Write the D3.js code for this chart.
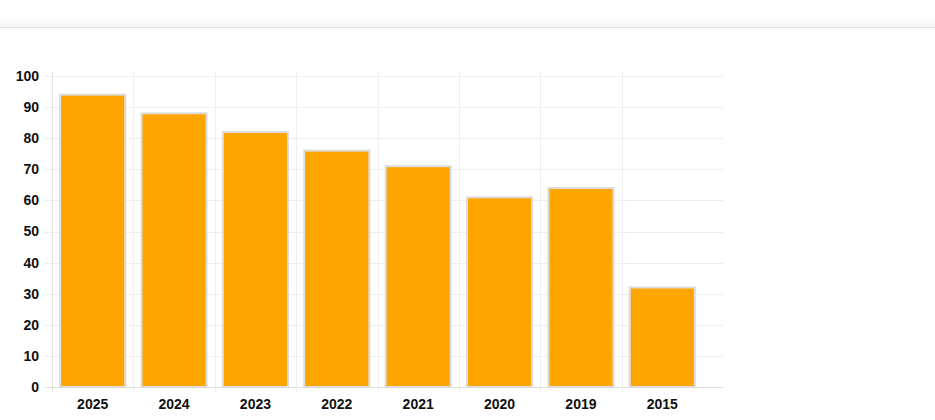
<!DOCTYPE html>
<html>
<head>
<meta charset="utf-8">
<script src="https://cdn.jsdelivr.net/npm/d3@7"></script>
<style>
  body { margin: 0; background: #fff; }
  svg { display: block; font-family: "Liberation Sans", Arial, sans-serif; }
</style>
</head>
<body>
<svg id="chart"></svg>
<script>
const years = ["2025", "2024", "2023", "2022", "2021", "2020", "2019", "2015"];
const scores = [94, 88, 82, 76, 71, 61, 64, 32];
const yTicks = [0, 10, 20, 30, 40, 50, 60, 70, 80, 90, 100];

const width = 935, height = 420;
const plot = { left: 52, right: 723, top: 76, bottom: 387, bandsEnd: 703 };

const svg = d3.select("#chart")
    .attr("width", width)
    .attr("height", height);

// faint header strip across the top of the page
const defs = svg.append("defs");
const grad = defs.append("linearGradient")
    .attr("id", "headerShade")
    .attr("x1", 0).attr("y1", 0).attr("x2", 0).attr("y2", 1);
grad.append("stop").attr("offset", "0%").attr("stop-color", "#fff");
grad.append("stop").attr("offset", "100%").attr("stop-color", "#f6f6f6");

svg.append("rect")
    .attr("x", 0).attr("y", 16)
    .attr("width", width).attr("height", 11)
    .attr("fill", "url(#headerShade)");
svg.append("line")
    .attr("x1", 0).attr("x2", width)
    .attr("y1", 27.5).attr("y2", 27.5)
    .attr("stroke", "#e2e2e2");

const x = d3.scaleBand()
    .domain(years)
    .range([plot.left, plot.bandsEnd])
    .paddingInner(0.2)
    .paddingOuter(0.1);

const y = d3.scaleLinear()
    .domain([0, 100])
    .range([plot.bottom, plot.top]);

const halfGap = x.step() * x.paddingInner() / 2;

// horizontal grid + y ticks
svg.append("g")
    .selectAll("line")
    .data(yTicks)
    .join("line")
    .attr("x1", plot.left - 7)
    .attr("x2", plot.right)
    .attr("y1", d => Math.round(y(d)) + 0.5)
    .attr("y2", d => Math.round(y(d)) + 0.5)
    .attr("stroke", d => d === 0 ? "#e0e0e0" : "#eeeeee");

// vertical grid at category boundaries
svg.append("g")
    .selectAll("line")
    .data(years)
    .join("line")
    .attr("x1", d => Math.round(x(d) - halfGap) + 0.5)
    .attr("x2", d => Math.round(x(d) - halfGap) + 0.5)
    .attr("y1", plot.top - 4)
    .attr("y2", plot.bottom + 6)
    .attr("stroke", (d, i) => i === 0 ? "#e4e4e4" : "#eeeeee");

// y labels
svg.append("g")
    .selectAll("text")
    .data(yTicks)
    .join("text")
    .attr("x", 39)
    .attr("y", d => y(d))
    .attr("dy", "0.35em")
    .attr("text-anchor", "end")
    .attr("font-size", 14)
    .attr("font-weight", "bold")
    .attr("fill", "#111")
    .text(d => d);

// bars
svg.append("g")
    .selectAll("rect")
    .data(years.map((yr, i) => ({ year: yr, value: scores[i] })))
    .join("rect")
    .attr("x", d => x(d.year))
    .attr("y", d => y(d.value))
    .attr("width", x.bandwidth())
    .attr("height", d => y(0) - y(d.value))
    .attr("fill", "#FFA500")
    .attr("stroke", "#dddddd")
    .attr("stroke-width", 2);

// x labels
svg.append("g")
    .selectAll("text")
    .data(years)
    .join("text")
    .attr("x", d => x(d) + x.bandwidth() / 2)
    .attr("y", 404)
    .attr("dy", "0.35em")
    .attr("text-anchor", "middle")
    .attr("font-size", 14)
    .attr("font-weight", "bold")
    .attr("fill", "#111")
    .text(d => d);
</script>
</body>
</html>
